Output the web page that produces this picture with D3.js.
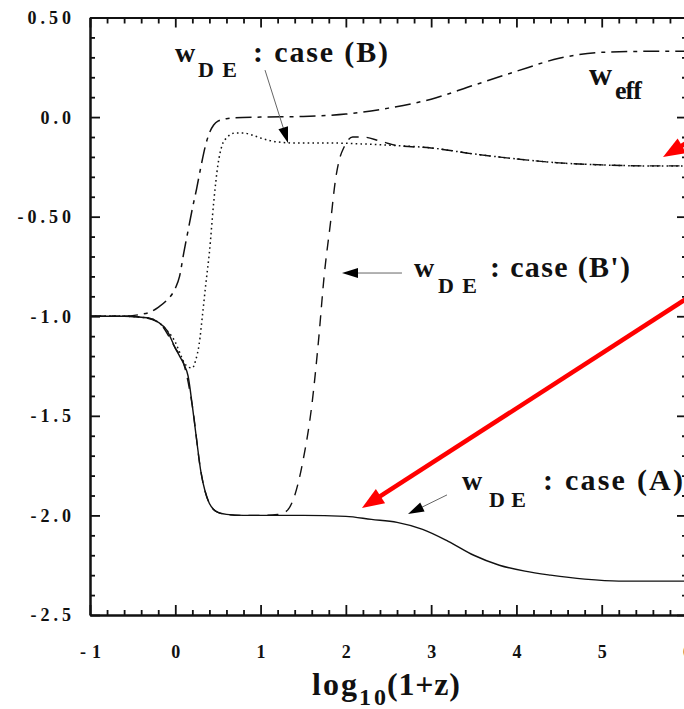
<!DOCTYPE html>
<html><head><meta charset="utf-8">
<script src="https://cdn.jsdelivr.net/npm/d3@7"></script>
<style>html,body{margin:0;padding:0;background:#fff;overflow:hidden}
text{font-family:"Liberation Serif","Times New Roman",serif;font-weight:bold;fill:#111}</style>
</head><body><svg id="c" width="684" height="709"></svg>
<script>
// ---------- data ----------
const xTicks = [-1, 0, 1, 2, 3, 4, 5, 6];
const xTickLabels = ["-1", "0", "1", "2", "3", "4", "5", "6"];
const yTicks = [0.5, 0, -0.5, -1, -1.5, -2, -2.5];
const yTickLabels = ["0.50", "0.0", "-0.50", "-1.0", "-1.5", "-2.0", "-2.5"];

// w_DE case (A) : solid
const xA = [-1, -0.6, -0.4, -0.3, -0.2, -0.1, 0, 0.05, 0.1, 0.15, 0.2, 0.25, 0.3, 0.35, 0.4, 0.45, 0.5, 0.6, 0.8, 1.0, 1.5, 2.0, 2.3, 2.6, 2.9, 3.2, 3.5, 3.8, 4.1, 4.4, 4.8, 5.2, 5.6, 6.0];
const wA = [-1.0, -1.0, -1.005, -1.01, -1.03, -1.07, -1.16, -1.2, -1.24, -1.3, -1.45, -1.62, -1.78, -1.88, -1.94, -1.97, -1.985, -1.995, -2.0, -2.0, -2.0, -2.005, -2.02, -2.035, -2.07, -2.13, -2.2, -2.25, -2.28, -2.3, -2.32, -2.33, -2.33, -2.33];

// w_DE case (B) : dotted
const xB = [-1, -0.6, -0.4, -0.3, -0.2, -0.1, 0, 0.05, 0.1, 0.15, 0.2, 0.24, 0.28, 0.32, 0.36, 0.4, 0.45, 0.5, 0.55, 0.6, 0.7, 0.8, 0.9, 1.0, 1.2, 1.4, 1.8, 2.2, 2.6, 3.0, 3.5, 4.0, 4.5, 5.0, 5.5, 6.0];
const wB = [-1.0, -1.0, -1.005, -1.01, -1.03, -1.07, -1.13, -1.18, -1.23, -1.255, -1.26, -1.22, -1.14, -0.99, -0.83, -0.68, -0.43, -0.24, -0.14, -0.105, -0.08, -0.08, -0.09, -0.105, -0.125, -0.13, -0.13, -0.135, -0.143, -0.155, -0.185, -0.21, -0.23, -0.24, -0.245, -0.245];

// w_DE case (B') : dashed
const xBp = [-1, -0.6, -0.4, -0.2, 0, 0.1, 0.2, 0.3, 0.4, 0.5, 0.6, 0.8, 1.0, 1.2, 1.3, 1.4, 1.5, 1.6, 1.68, 1.745, 1.82, 1.88, 1.92, 1.98, 2.08, 2.2, 2.4, 2.6, 3.0, 3.5, 4.0, 4.5, 5.0, 5.5, 6.0];
const wBp = [-1.0, -1.0, -1.005, -1.03, -1.16, -1.24, -1.45, -1.78, -1.94, -1.985, -1.995, -2.0, -2.0, -1.995, -1.98, -1.9, -1.72, -1.45, -1.12, -0.8, -0.53, -0.31, -0.22, -0.15, -0.1, -0.1, -0.12, -0.143, -0.155, -0.185, -0.21, -0.23, -0.24, -0.245, -0.245];

// w_eff : long dash - dot
const xEff = [-1, -0.6, -0.4, -0.3, -0.2, -0.1, 0, 0.05, 0.1, 0.15, 0.2, 0.25, 0.3, 0.35, 0.4, 0.45, 0.5, 0.6, 0.7, 1.0, 1.5, 2.0, 2.5, 3.0, 3.5, 4.0, 4.5, 5.0, 5.5, 6.0];
const wEff = [-1.0, -1.0, -0.99, -0.98, -0.955, -0.92, -0.86, -0.8, -0.68, -0.57, -0.46, -0.36, -0.25, -0.15, -0.08, -0.04, -0.02, -0.008, -0.003, 0.0, 0.003, 0.015, 0.045, 0.09, 0.16, 0.23, 0.295, 0.325, 0.33, 0.33];

// annotation arrows, in data units: [fromX, fromY, toX, toY]
const blackArrows = [[1.052, 0.236, 1.322, -0.130], [2.658, -0.783, 1.955, -0.783], [3.186, -1.897, 2.729, -1.993]];
const redArrows = [[6.152, -0.868, 2.189, -1.963], [6.152, -0.090, 5.719, -0.200]];

// ---------- layout ----------
const svg = d3.select("#c");
const L = 90, R = 687, T = 17.5, B = 615;
const x = d3.scaleLinear([-1, 6], [L, R]);
const y = d3.scaleLinear([-2.5, 0.5], [B, T]);
const ink = "#111";

const xMinor = d3.range(-1, 6.001, 0.2).filter(v => Math.abs(v - Math.round(v)) > 1e-6);
const yMinor = d3.range(-2.5, 0.5001, 0.1).filter(v => Math.abs(v * 2 - Math.round(v * 2)) > 1e-6);

function styleAxis(g) {
  g.attr("font-family", null).attr("font-size", null);
  g.selectAll("path.domain").attr("stroke", ink).attr("stroke-width", 2);
  g.selectAll(".tick line").attr("stroke", ink).attr("stroke-width", 1.8);
}
// left
svg.append("g").attr("transform", `translate(${L},0)`)
  .call(d3.axisLeft(y).tickValues(yTicks).tickSizeInner(-10).tickSizeOuter(0).tickPadding(15)
    .tickFormat((d, i) => yTickLabels[i]))
  .call(styleAxis)
  .call(g => g.selectAll("text").style("font-size", "18px").attr("fill", ink)
    .style("letter-spacing", "4px").attr("dy", "0.33em"));
svg.append("g").attr("transform", `translate(${L},0)`)
  .call(d3.axisLeft(y).tickValues(yMinor).tickSizeInner(-5).tickSizeOuter(0).tickFormat(""))
  .call(styleAxis);
// right
svg.append("g").attr("transform", `translate(${R},0)`)
  .call(d3.axisRight(y).tickValues(yTicks).tickSizeInner(-10).tickSizeOuter(0).tickFormat(""))
  .call(styleAxis);
svg.append("g").attr("transform", `translate(${R},0)`)
  .call(d3.axisRight(y).tickValues(yMinor).tickSizeInner(-5).tickSizeOuter(0).tickFormat(""))
  .call(styleAxis);
// bottom
svg.append("g").attr("transform", `translate(0,${B})`)
  .call(d3.axisBottom(x).tickValues(xTicks).tickSizeInner(-10).tickSizeOuter(0).tickPadding(30)
    .tickFormat((d, i) => xTickLabels[i]))
  .call(styleAxis)
  .call(g => g.selectAll("text").style("font-size", "18px").attr("fill", ink)
    .style("letter-spacing", (d, i) => xTickLabels[i].length > 1 ? "6px" : null)
    .attr("dx", (d, i) => xTickLabels[i].length > 1 ? 3 : 0));
svg.append("g").attr("transform", `translate(0,${B})`)
  .call(d3.axisBottom(x).tickValues(xMinor).tickSizeInner(-5).tickSizeOuter(0).tickFormat(""))
  .call(styleAxis);
// top
svg.append("g").attr("transform", `translate(0,${T})`)
  .call(d3.axisTop(x).tickValues(xTicks).tickSizeInner(-10).tickSizeOuter(0).tickFormat(""))
  .call(styleAxis);
svg.append("g").attr("transform", `translate(0,${T})`)
  .call(d3.axisTop(x).tickValues(xMinor).tickSizeInner(-6).tickSizeOuter(0).tickFormat(""))
  .call(styleAxis);

// ---------- curves ----------
const line = d3.line().x(d => x(d[0])).y(d => y(d[1])).curve(d3.curveMonotoneX);
const series = [
  { xs: xA, ys: wA, dash: null, w: 1.4 },
  { xs: xBp, ys: wBp, dash: "11,8", w: 1.4 },
  { xs: xB, ys: wB, dash: "1.6,3.2", w: 1.5 },
  { xs: xEff, ys: wEff, dash: "16,6,4,6", w: 1.5 }
];
series.forEach(s => {
  svg.append("path").datum(d3.zip(s.xs, s.ys)).attr("d", line)
    .attr("fill", "none").attr("stroke", ink).attr("stroke-width", s.w)
    .attr("stroke-dasharray", s.dash);
});

// ---------- annotation arrows ----------
function arrow(a, color, lw, headLen, headHalf, lineColor) {
  const x1 = x(a[0]), y1 = y(a[1]), x2 = x(a[2]), y2 = y(a[3]);
  const dx = x2 - x1, dy = y2 - y1, len = Math.hypot(dx, dy);
  const ux = dx / len, uy = dy / len;
  const bx = x2 - ux * headLen, by = y2 - uy * headLen;
  svg.append("line").attr("x1", x1).attr("y1", y1).attr("x2", bx + ux * 2).attr("y2", by + uy * 2)
    .attr("stroke", lineColor).attr("stroke-width", lw);
  svg.append("path")
    .attr("d", `M${x2},${y2}L${bx - uy * headHalf},${by + ux * headHalf}L${bx + uy * headHalf},${by - ux * headHalf}Z`)
    .attr("fill", color);
}
blackArrows.forEach(a => arrow(a, "#000", 1, 16, 5, "#666"));
redArrows.forEach(a => arrow(a, "#ff0000", 4.5, 22, 8.5, "#ff0000"));

// ---------- text labels ----------
function label(xp, yp, str, size, tl) {
  const t = svg.append("text").attr("x", xp).attr("y", yp).attr("font-size", size).text(str);
  if (tl) t.attr("textLength", tl).attr("lengthAdjust", "spacing");
  return t;
}
// case (B)
label(175, 62, "w", 28);
label(198, 77, "D E", 22, 39);
label(253, 62, ": case (B)", 30, 135);
// case (B')
label(414, 277, "w", 28);
label(438, 293, "D E", 22, 39);
label(490, 277, ": case (B')", 30, 140);
// case (A)
label(462, 490, "w", 28);
label(489, 507, "D E", 22, 37);
label(543, 490, ": case (A)", 30, 140);
// w_eff
label(589, 85, "w", 32);
label(615, 99, "eff", 26, 27);
// x title
label(312, 695, "log", 32, 45);
label(359, 705, "10", 24, 27);
label(387, 695, "(1+z)", 32, 73);
</script></body></html>
